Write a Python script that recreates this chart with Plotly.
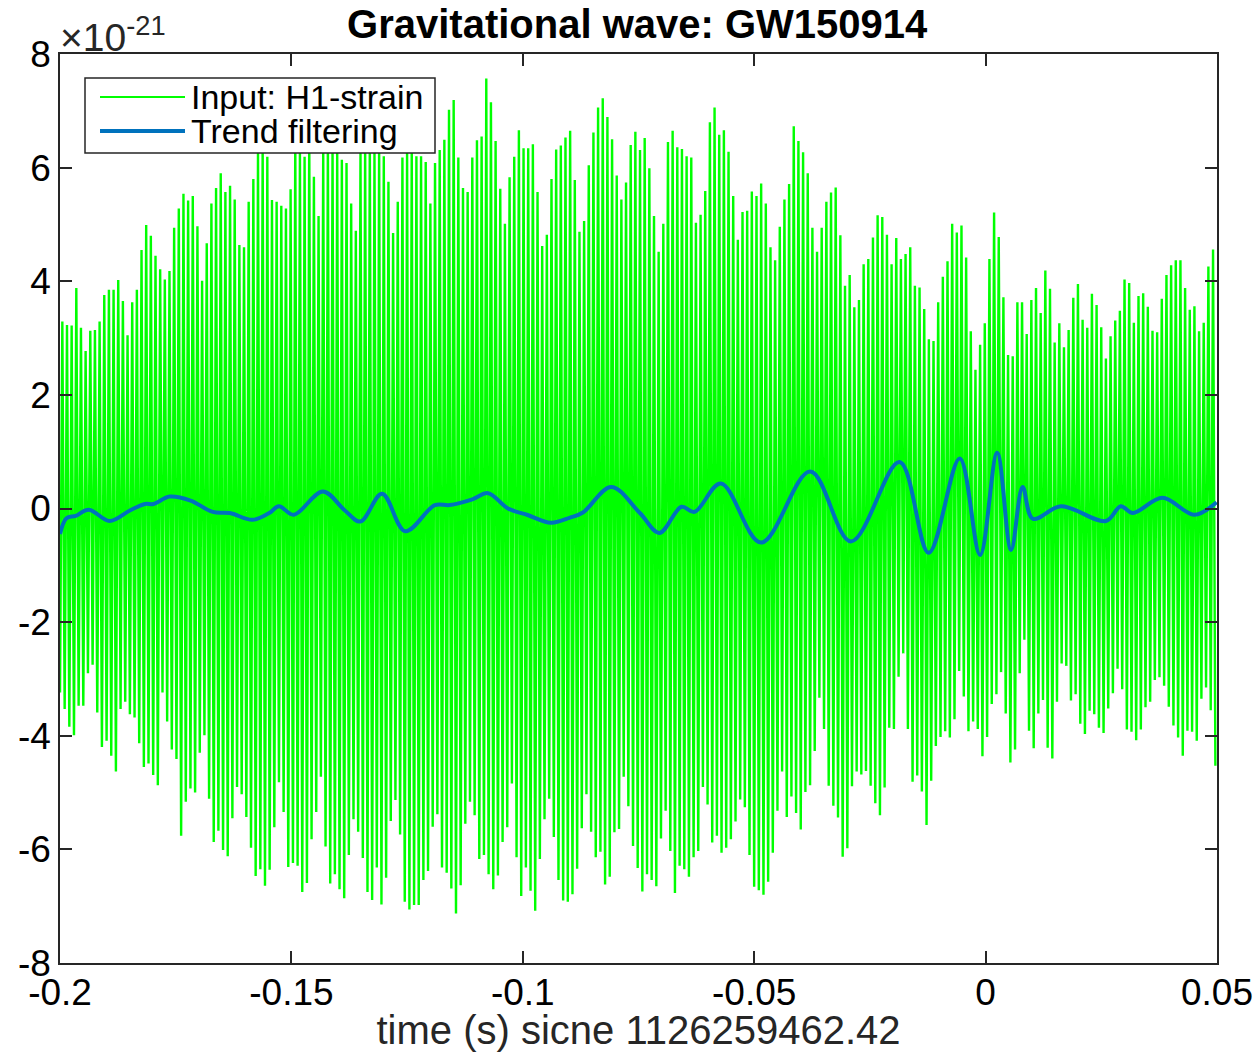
import numpy as np
import plotly.graph_objects as go

# ---------------- data ----------------
T_START = -0.2
T_END = 0.05

# local maxima of the H1 strain trace (x1e-21), left to right
strain_peaks = [
    3.29, 3.23, 3.22, 3.88, 3.18, 2.77, 3.13, 3.14, 3.29, 3.76,
    3.85, 3.85, 4.02, 3.65, 3.05, 3.63, 3.85, 4.55, 4.99, 4.80,
    4.45, 4.21, 4.03, 4.18, 4.94, 5.28, 5.54, 5.42, 5.50, 4.97,
    4.01, 4.67, 5.37, 5.64, 5.90, 5.57, 5.68, 5.44, 4.64, 4.60,
    5.40, 5.80, 6.30, 6.40, 6.19, 5.43, 5.40, 5.33, 5.28, 5.62,
    6.50, 6.30, 6.19, 6.60, 5.84, 5.15, 6.30, 6.50, 6.40, 6.30,
    6.14, 6.08, 5.37,
    4.89, 6.30, 6.40, 6.50, 6.30, 6.40, 6.20, 5.75, 4.85, 5.40,
    6.18, 6.30, 6.40, 6.20, 6.20, 6.10, 5.37, 6.08, 6.31, 6.49,
    7.02, 7.19, 6.18, 5.64, 5.57, 6.18, 6.48, 6.55, 7.57, 7.15,
    6.47, 5.63, 5.01, 5.83, 6.19, 6.66, 6.34, 6.34, 6.41, 5.57,
    4.62, 4.82, 5.80, 6.32, 6.39, 6.53, 6.65, 5.78, 4.87, 5.06,
    6.04, 6.62, 7.06, 7.22, 6.89, 6.50, 5.86, 5.44, 5.74, 6.40,
    6.63, 6.31, 6.52,
    5.99, 5.15, 4.52, 5.01, 6.45, 6.65, 6.36, 6.33, 6.20, 6.18,
    5.03, 5.17, 5.59, 6.80, 7.06, 6.58, 6.66, 6.28, 5.50, 4.73,
    5.22, 5.24, 5.58, 5.50, 5.72, 5.37, 4.60, 4.37, 4.96, 5.44,
    5.71, 6.73, 6.47, 6.27, 5.90, 4.94, 4.52, 4.94, 5.40, 5.56,
    5.65, 4.81, 3.92, 4.11, 3.54, 3.67, 4.30, 4.39, 4.77, 5.16,
    5.13, 4.82, 4.30, 4.76, 4.39, 4.48, 4.60, 3.92, 3.89, 3.51,
    2.98, 2.95, 3.63,
    4.08, 4.35, 5.01, 4.86, 4.98, 4.42, 3.12, 2.44, 2.88, 3.26,
    4.39, 5.21, 4.78, 3.72, 2.70, 2.68, 3.63, 3.63, 3.07, 3.67,
    3.88, 3.44, 4.19, 3.87, 2.92, 3.26, 2.84, 3.14, 3.71, 3.95,
    3.32, 3.18, 3.78, 3.58, 3.19, 2.64, 3.03, 3.31, 3.48, 4.03,
    3.97, 3.27, 3.74, 3.79, 3.55, 3.13, 3.10, 3.69, 4.11, 4.28,
    4.37, 4.37, 3.88, 3.50, 3.56, 3.12, 3.27, 4.26, 4.56,
]

# local minima of the H1 strain trace (x1e-21), left to right
strain_troughs = [
    -3.24, -3.53, -3.84, -3.99, -3.47, -3.47, -2.90, -2.75, -3.59, -4.20,
    -4.09, -4.35, -4.63, -3.53, -3.40, -3.62, -3.68, -4.13, -4.55, -4.49,
    -4.69, -4.87, -3.24, -3.75, -4.24, -4.41, -5.76, -5.16, -4.93, -5.00,
    -4.30, -3.99, -5.11, -5.87, -5.67, -6.01, -6.12, -5.45, -4.90, -5.03,
    -5.43, -5.97, -6.47, -6.35, -6.64, -6.36, -5.61, -4.82, -5.34, -6.31,
    -6.24, -6.29, -6.75, -6.59, -5.82, -5.34, -4.72, -5.95, -6.60, -6.44,
    -6.70, -6.86, -6.10, -5.47,
    -5.69, -6.15, -6.75, -6.89, -6.32, -6.97, -6.50, -5.50, -5.13, -5.74,
    -6.92, -7.06, -6.98, -6.98, -6.54, -6.38, -5.60, -5.38, -6.32, -6.41,
    -6.69, -7.13, -6.63, -5.55, -5.16, -5.40, -6.17, -6.10, -6.44, -6.70,
    -6.46, -5.87, -5.61, -4.84, -6.14, -6.82, -6.32, -6.73, -7.08, -6.17,
    -5.47, -5.11, -5.78, -6.54, -6.90, -6.92, -6.79, -6.34, -5.63, -5.03,
    -5.69, -6.14, -6.04, -6.62, -6.48, -5.70, -5.64, -4.72, -5.24, -5.94,
    -6.33, -6.74, -6.44,
    -6.54, -6.65, -5.81, -5.32, -6.03, -6.77, -6.29, -6.35, -6.48, -6.14,
    -6.03, -4.90, -5.21, -5.88, -5.76, -6.06, -5.97, -5.82, -5.51, -5.12,
    -5.26, -6.10, -6.66, -6.72, -6.80, -6.57, -6.06, -5.32, -4.63, -5.43,
    -5.07, -5.36, -5.65, -4.99, -4.87, -4.27, -3.33, -3.88, -4.88, -5.23,
    -5.44, -6.13, -5.98, -4.89, -4.63, -4.68, -4.62, -4.88, -5.19, -5.40,
    -4.91, -3.86, -3.88, -2.96, -2.55, -3.88, -4.81, -4.70, -4.98, -5.57,
    -4.79, -4.18, -4.02, -3.92,
    -4.03, -3.71, -2.86, -3.31, -3.92, -3.75, -3.88, -4.36, -4.02, -3.44,
    -3.27, -2.88, -3.61, -4.47, -4.24, -2.90, -2.31, -3.91, -4.22, -3.61,
    -3.37, -4.21, -4.40, -3.40, -2.73, -2.77, -3.38, -3.27, -3.79, -3.97,
    -3.56, -3.62, -3.86, -3.95, -3.52, -3.25, -2.82, -3.18, -3.89, -3.93,
    -4.08, -3.89, -3.50, -3.40, -3.02, -2.97, -3.12, -3.49, -3.82, -4.03,
    -4.35, -3.91, -3.93, -4.09, -3.35, -3.15, -3.55, -4.53,
]

# time span covered by the alternating minima/maxima (s)
strain_t_span = [-0.2, 0.04965]

# trend-filtering output (time in s, value x1e-21)
trend_t = [
    -0.2000, -0.1986, -0.1966, -0.1938, -0.1893, -0.1848, -0.1816, -0.1798,
    -0.1763, -0.1718, -0.1670, -0.1633, -0.1584, -0.1548, -0.1527, -0.1495,
    -0.1432, -0.1385, -0.1351, -0.1304, -0.1254, -0.1190, -0.1158, -0.1109,
    -0.1075, -0.1032, -0.0991, -0.0939, -0.0898, -0.0870, -0.0809, -0.0747,
    -0.0705, -0.0657, -0.0629, -0.0572, -0.0485, -0.0379, -0.0291, -0.0186,
    -0.0123, -0.0056, -0.0012, 0.0025, 0.0055, 0.0080, 0.0102, 0.0163,
    0.0260, 0.0292, 0.0318, 0.0382, 0.0451, 0.0499,
]
trend_v = [
    -0.45, -0.17, -0.13, -0.02, -0.22, -0.03, 0.08, 0.08,
    0.21, 0.14, -0.06, -0.08, -0.20, -0.08, 0.04, -0.11,
    0.30, -0.03, -0.23, 0.26, -0.40, 0.06, 0.06, 0.16,
    0.27, 0.00, -0.11, -0.25, -0.16, -0.07, 0.38, -0.08,
    -0.43, 0.03, -0.06, 0.44, -0.60, 0.65, -0.58, 0.82,
    -0.78, 0.88, -0.82, 0.98, -0.73, 0.38, -0.18, 0.04,
    -0.22, 0.04, -0.08, 0.19, -0.11, 0.11,
]

x_tickvals = [-0.2, -0.15, -0.1, -0.05, 0, 0.05]
x_ticktext = ["-0.2", "-0.15", "-0.1", "-0.05", "0", "0.05"]
y_tickvals = [-8, -6, -4, -2, 0, 2, 4, 6, 8]
y_ticktext = ["-8", "-6", "-4", "-2", "0", "2", "4", "6", "8"]

title_text = "Gravitational wave: GW150914"
xlabel_text = "time (s) sicne 1126259462.42"
legend_labels = ["Input: H1-strain", "Trend filtering"]

# ---------------- build the zig-zag strain series ----------------
# strictly alternate trough, peak, trough, peak, ...
n_pairs = min(len(strain_peaks), len(strain_troughs))
seq = []
for i in range(n_pairs):
    seq.append(strain_troughs[i])
    seq.append(strain_peaks[i])
if len(strain_troughs) > n_pairs:
    seq.append(strain_troughs[n_pairs])
strain_v = np.array(seq)
strain_t = np.linspace(strain_t_span[0], strain_t_span[1], len(strain_v))

GREEN = "#00FF00"
BLUE = "#0072BD"
AX = "#262626"
FONT = "Liberation Sans, Arial, Helvetica, sans-serif"

fig = go.Figure()
fig.add_trace(go.Scatter(
    x=strain_t, y=strain_v, mode="lines",
    line=dict(color=GREEN, width=2.4),
    name=legend_labels[0], showlegend=False, hoverinfo="skip",
))
fig.add_trace(go.Scatter(
    x=trend_t, y=trend_v, mode="lines",
    line=dict(color=BLUE, width=4, shape="spline", smoothing=1.0),
    name=legend_labels[1], showlegend=False,
))

# ---------------- manual MATLAB-style legend ----------------
def px(xp):
    return (xp - 60) / 1157.0


def py(yp):
    return (963 - yp) / 909.0


shapes = [
    dict(type="rect", xref="paper", yref="paper",
         x0=px(85), x1=px(435), y0=py(153), y1=py(78),
         fillcolor="white", line=dict(color=AX, width=1.5), layer="above"),
    dict(type="line", xref="paper", yref="paper",
         x0=px(100), x1=px(185), y0=py(97), y1=py(97),
         line=dict(color=GREEN, width=2), layer="above"),
    dict(type="line", xref="paper", yref="paper",
         x0=px(100), x1=px(185), y0=py(131), y1=py(131),
         line=dict(color=BLUE, width=4), layer="above"),
]
annotations = [
    dict(xref="paper", yref="paper", x=px(189), y=py(97), xanchor="left",
         yanchor="middle", text=legend_labels[0], showarrow=False,
         font=dict(family=FONT, size=34, color="black")),
    dict(xref="paper", yref="paper", x=px(189), y=py(131), xanchor="left",
         yanchor="middle", text=legend_labels[1], showarrow=False,
         font=dict(family=FONT, size=34, color="black")),
    dict(xref="paper", yref="paper", x=px(58), y=py(34), xanchor="left",
         yanchor="middle", text="\u00d710<sup>-21</sup>", showarrow=False,
         font=dict(family=FONT, size=39, color=AX)),
]

fig.update_layout(
    width=1258, height=1052,
    margin=dict(l=60, r=41, t=54, b=89, autoexpand=False),
    paper_bgcolor="white", plot_bgcolor="white",
    font=dict(family=FONT, color=AX),
    title=dict(text="<b>" + title_text + "</b>", x=0.5065, xanchor="center",
               y=1 - 24 / 1052, yanchor="middle",
               font=dict(family=FONT, size=40, color="black")),
    shapes=shapes, annotations=annotations,
    showlegend=False,
)
fig.update_xaxes(
    range=[T_START, T_END], tickvals=x_tickvals, ticktext=x_ticktext,
    ticks="inside", ticklen=12, tickwidth=1.5, tickcolor=AX,
    ticklabelstandoff=-4,
    showline=True, linecolor=AX, linewidth=1.5, mirror="ticks",
    showgrid=False, zeroline=False,
    tickfont=dict(family=FONT, size=37, color="black"),
    title=dict(text=xlabel_text, standoff=4,
               font=dict(family=FONT, size=40, color=AX)),
)
fig.update_yaxes(
    range=[-8, 8], tickvals=y_tickvals, ticktext=y_ticktext,
    ticks="inside", ticklen=12, tickwidth=1.5, tickcolor=AX,
    showline=True, linecolor=AX, linewidth=1.5, mirror="ticks",
    showgrid=False, zeroline=False,
    tickfont=dict(family=FONT, size=37, color="black"),
)

fig.write_html("out.html")
